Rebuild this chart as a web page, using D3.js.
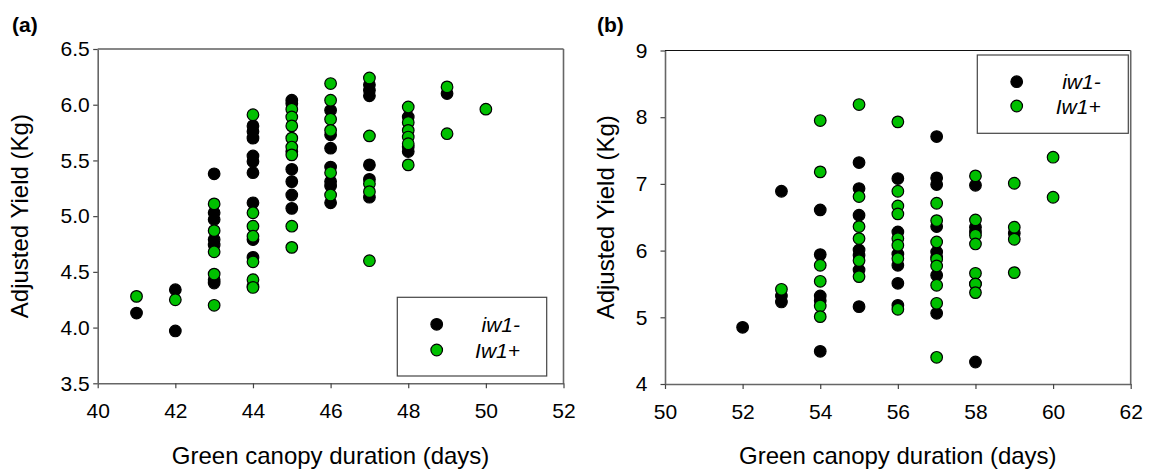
<!DOCTYPE html>
<html><head><meta charset="utf-8">
<script src="https://cdn.jsdelivr.net/npm/d3@7"></script>
<style>
html,body{margin:0;padding:0;background:#fff;}
svg{display:block;font-family:"Liberation Sans",Arial,sans-serif;}
</style></head>
<body><svg id="chart" width="1157" height="470"></svg>
<script>
// ---------- DATA ----------
// Panel (a): Green canopy duration (days) vs Adjusted Yield (Kg)
const aXTicks = [40, 42, 44, 46, 48, 50, 52];
const aYTicks = [3.5, 4.0, 4.5, 5.0, 5.5, 6.0, 6.5];
const aIw1Minus = [            // [day, [yields]]
  [41, [4.13]],
  [42, [4.34, 3.97]],
  [43, [5.38, 5.03, 4.97, 4.79, 4.74, 4.43, 4.40]],
  [44, [5.81, 5.76, 5.70, 5.54, 5.49, 5.39, 5.12, 4.79, 4.63, 4.37]],
  [45, [6.04, 6.01, 5.58, 5.42, 5.31, 5.19, 5.07]],
  [46, [5.95, 5.73, 5.61, 5.44, 5.31, 5.27, 5.12]],
  [47, [6.18, 6.13, 6.08, 5.46, 5.33, 5.17]],
  [48, [5.89, 5.62, 5.58]],
  [49, [6.10]]
];
const aIw1Plus = [
  [41, [4.28]],
  [42, [4.25]],
  [43, [5.11, 4.87, 4.68, 4.48, 4.20]],
  [44, [5.91, 5.03, 4.91, 4.82, 4.59, 4.43, 4.36]],
  [45, [5.96, 5.89, 5.81, 5.70, 5.62, 5.55, 4.91, 4.72]],
  [46, [6.19, 6.04, 5.87, 5.77, 5.39, 5.19]],
  [47, [6.24, 5.72, 5.29, 5.22, 4.60]],
  [48, [5.98, 5.84, 5.77, 5.71, 5.65, 5.46]],
  [49, [6.16, 5.74]],
  [50, [5.96]]
];
// Panel (b)
const bXTicks = [50, 52, 54, 56, 58, 60, 62];
const bYTicks = [4, 5, 6, 7, 8, 9];
const bIw1Minus = [
  [52, [4.85]],
  [53, [6.89, 5.32, 5.23]],
  [54, [6.61, 5.94, 5.32, 5.25, 4.49]],
  [55, [7.32, 6.93, 6.53, 6.01, 5.93, 5.71, 5.16]],
  [56, [7.08, 6.28, 5.95, 5.78, 5.51, 5.18]],
  [57, [7.71, 7.09, 6.99, 6.36, 5.98, 5.90, 5.63, 5.06]],
  [58, [6.98, 6.35, 6.28, 5.50, 4.33]],
  [59, [6.26]]
];
const bIw1Plus = [
  [53, [5.42]],
  [54, [7.95, 7.18, 5.78, 5.54, 5.17, 5.01]],
  [55, [8.19, 6.81, 6.36, 6.18, 5.85, 5.61]],
  [56, [7.93, 6.89, 6.67, 6.55, 6.18, 6.08, 5.88, 5.12]],
  [57, [6.71, 6.45, 6.13, 5.87, 5.77, 5.48, 5.21, 4.40]],
  [58, [7.12, 6.46, 6.23, 6.10, 5.66, 5.50, 5.37]],
  [59, [7.01, 6.35, 6.17, 5.67]],
  [60, [7.40, 6.80]]
];
const seriesNames = ["iw1-", "Iw1+"];
const seriesColors = ["#000000", "#00c000"];
const xTitle = "Green canopy duration (days)";
const yTitle = "Adjusted Yield (Kg)";

// ---------- DRAW ----------
const svg = d3.select("#chart");
const flat = s => s.flatMap(([x, ys]) => ys.map(y => ({x, y})));
const FONT = '"Liberation Sans",Arial,sans-serif';

function panel(cfg) {
  const {x0, x1, y0, y1, xDom, yDom, xTicks, yTicks, yFmt, series, label, labelX,
         yTitleX, yLabPad, legend} = cfg;
  const x = d3.scaleLinear().domain(xDom).range([x0, x1]);
  const y = d3.scaleLinear().domain(yDom).range([y1, y0]);
  const g = svg.append("g");

  // frame top and right
  g.append("line").attr("x1", x0).attr("x2", x1).attr("y1", y0).attr("y2", y0)
    .attr("stroke", "#111").attr("stroke-width", 1.2);
  g.append("line").attr("x1", x1).attr("x2", x1).attr("y1", y0).attr("y2", y1)
    .attr("stroke", "#666").attr("stroke-width", 1.6);

  const xa = g.append("g").attr("transform", `translate(0,${y1})`)
    .call(d3.axisBottom(x).tickValues(xTicks).tickSize(5).tickSizeOuter(0).tickPadding(15)
      .tickFormat(d3.format("d")));
  const ya = g.append("g").attr("transform", `translate(${x0},0)`)
    .call(d3.axisLeft(y).tickValues(yTicks).tickSize(4.5).tickSizeOuter(0).tickPadding(yLabPad)
      .tickFormat(yFmt));
  [xa, ya].forEach(a => {
    a.select(".domain").attr("stroke", "#666").attr("stroke-width", 1.6);
    a.selectAll(".tick line").attr("stroke", "#444").attr("stroke-width", 1.2);
    a.selectAll(".tick text").attr("fill", "#000").style("font-size", "21px")
      .style("font-family", FONT);
  });

  // points
  series.forEach((s, i) => {
    g.append("g").selectAll("circle").data(flat(s)).join("circle")
      .attr("cx", d => x(d.x)).attr("cy", d => y(d.y)).attr("r", 5.8)
      .attr("fill", seriesColors[i]).attr("stroke", "#000").attr("stroke-width", 1.2);
  });

  // titles
  g.append("text").attr("x", (x0 + x1) / 2).attr("y", 464).attr("text-anchor", "middle")
    .style("font-size", "24px").text(xTitle);
  g.append("text").attr("transform", `translate(${yTitleX},${(y0 + y1) / 2}) rotate(-90)`)
    .attr("text-anchor", "middle").style("font-size", "24px").text(yTitle);
  g.append("text").attr("x", labelX).attr("y", 32).style("font-size", "21px")
    .style("font-weight", "bold").text(label);

  // legend
  const L = legend;
  g.append("rect").attr("x", L.x).attr("y", L.y).attr("width", L.w).attr("height", L.h)
    .attr("fill", "#fff").attr("stroke", "#444").attr("stroke-width", 1.2);
  seriesNames.forEach((n, i) => {
    const cy = L.y + L.mY[i];
    g.append("circle").attr("cx", L.x + L.mX).attr("cy", cy).attr("r", 5.8)
      .attr("fill", seriesColors[i]).attr("stroke", "#000").attr("stroke-width", 1.2);
    g.append("text").attr("x", L.x + L.tX).attr("y", cy + 7.5).attr("text-anchor", "end")
      .style("font-size", "21px").style("font-style", "italic").text(n);
  });
}

panel({x0: 97.7, x1: 563.5, y0: 49, y1: 383.3, xDom: [40, 52], yDom: [3.5, 6.5],
  xTicks: aXTicks, yTicks: aYTicks, yFmt: d3.format(".1f"), series: [aIw1Minus, aIw1Plus],
  label: "(a)", labelX: 12, yTitleX: 28, yLabPad: 3.5,
  legend: {x: 397.3, y: 297.3, w: 149.4, h: 78.7, mX: 39.4, mY: [27, 52.7], tX: 122.7}});

panel({x0: 665, x1: 1130.7, y0: 50.5, y1: 384, xDom: [50, 62], yDom: [4, 9],
  xTicks: bXTicks, yTicks: bYTicks, yFmt: d3.format("d"), series: [bIw1Minus, bIw1Plus],
  label: "(b)", labelX: 597, yTitleX: 614, yLabPad: 13,
  legend: {x: 977.3, y: 55, w: 151, h: 78.3, mX: 39.4, mY: [26.7, 51], tX: 123.4}});
</script>
</body></html>
